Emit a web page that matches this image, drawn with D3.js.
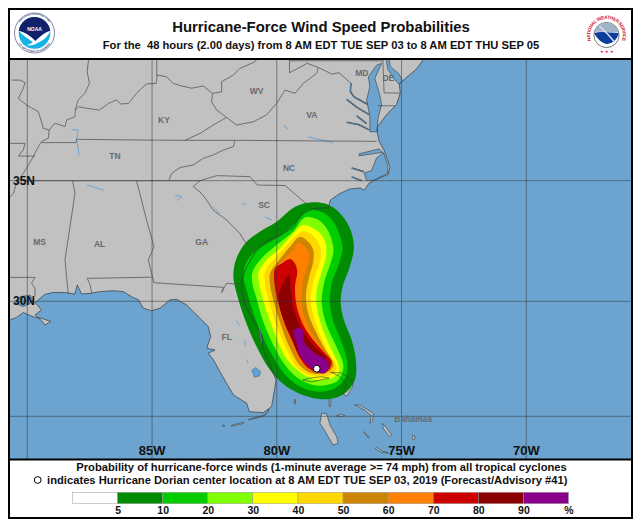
<!DOCTYPE html>
<html>
<head>
<meta charset="utf-8">
<script src="https://cdn.jsdelivr.net/npm/d3@7"></script>
<style>
  html, body { margin: 0; padding: 0; background: #fff; }
  svg { display: block; font-family: "Liberation Sans", Arial, sans-serif; }
</style>
</head>
<body>
<svg id="chart" width="640" height="527"></svg>
<script>
// tick labels and legend
const lonTicks = [-90, -85, -80, -75, -70];
const lonLabels = ["85W", "80W", "75W", "70W"];
const latTicks = [25, 30, 35];
const latLabels = ["30N", "35N"];
const legendLevels = [0, 5, 10, 20, 30, 40, 50, 60, 70, 80, 90];
const legendColors = ["#ffffff", "#008b00", "#00cd00", "#7fff00", "#ffff00", "#ffd700", "#cd8500", "#ff7f00", "#cd0000", "#8b0000", "#8b008b"];
const legendLabels = ["5", "10", "20", "30", "40", "50", "60", "70", "80", "90", "%"];

// storm position, lon/lat
const stormCenter = [-78.4, 27.07];

// probability contours, lon/lat
const contour5 = [[-78.67,34.10],[-78.00,34.03],[-77.47,33.65],[-77.07,33.02],[-76.91,32.26],[-77.07,31.44],[-77.36,30.61],[-77.44,29.91],[-77.31,29.19],[-77.00,28.32],[-76.83,27.45],[-76.87,26.58],[-77.27,26.00],[-77.87,25.75],[-78.67,25.83],[-79.60,26.29],[-80.27,27.01],[-80.81,28.03],[-81.27,29.19],[-81.61,30.33],[-81.74,31.02],[-81.64,31.71],[-81.27,32.40],[-80.67,32.89],[-80.01,33.30],[-79.27,33.92]];
const contour10 = [[-78.74,33.76],[-78.13,33.67],[-77.73,33.30],[-77.49,32.75],[-77.36,32.20],[-77.53,31.50],[-77.80,30.74],[-77.87,29.91],[-77.73,29.11],[-77.44,28.32],[-77.17,27.30],[-77.27,26.65],[-77.67,26.22],[-78.27,26.07],[-78.94,26.22],[-79.60,26.73],[-80.07,27.45],[-80.54,28.39],[-80.94,29.48],[-81.21,30.47],[-81.34,31.02],[-81.21,31.64],[-80.81,32.13],[-80.14,32.54],[-79.40,33.09]];
const contour20 = [[-78.87,33.47],[-78.33,33.37],[-78.00,33.02],[-77.80,32.54],[-77.73,32.06],[-77.87,31.50],[-78.11,30.74],[-78.20,29.91],[-78.03,29.04],[-77.67,28.17],[-77.33,27.16],[-77.53,26.58],[-78.00,26.36],[-78.54,26.36],[-79.14,26.65],[-79.67,27.23],[-80.14,28.10],[-80.54,29.11],[-80.81,30.12],[-80.98,30.74],[-80.97,31.23],[-80.61,31.78],[-80.01,32.33],[-79.34,32.89]];
const contour30 = [[-78.94,33.16],[-78.54,33.02],[-78.20,32.75],[-78.03,32.33],[-78.03,31.85],[-78.20,31.23],[-78.40,30.47],[-78.40,29.77],[-78.20,28.90],[-77.87,28.03],[-77.49,27.01],[-77.73,26.70],[-78.27,26.58],[-78.80,26.73],[-79.34,27.16],[-79.74,27.74],[-80.14,28.75],[-80.47,29.77],[-80.70,30.68],[-80.74,31.16],[-80.47,31.64],[-79.87,32.20],[-79.40,32.75]];
const contour40 = [[-79.00,32.89],[-78.67,32.82],[-78.40,32.54],[-78.23,32.13],[-78.29,31.57],[-78.50,30.95],[-78.64,30.19],[-78.54,29.41],[-78.29,28.61],[-78.00,27.88],[-77.60,27.09],[-77.87,26.80],[-78.33,26.73],[-78.87,26.87],[-79.27,27.23],[-79.60,27.88],[-79.94,28.75],[-80.27,29.84],[-80.47,30.74],[-80.47,31.23],[-80.07,31.78],[-79.54,32.40]];
const contour50 = [[-79.07,32.68],[-78.74,32.47],[-78.54,32.13],[-78.54,31.64],[-78.70,31.02],[-78.83,30.26],[-78.74,29.48],[-78.47,28.75],[-78.13,28.03],[-77.73,27.23],[-77.93,26.94],[-78.33,26.84],[-78.74,26.94],[-79.14,27.30],[-79.47,27.96],[-79.74,28.68],[-80.07,29.77],[-80.27,30.68],[-80.27,31.16],[-80.01,31.57],[-79.47,32.26]];
const contour60 = [[-79.14,32.43],[-78.87,32.26],[-78.70,31.92],[-78.78,31.44],[-78.94,30.88],[-79.00,30.19],[-78.94,29.48],[-78.60,28.61],[-78.20,27.96],[-77.80,27.30],[-78.00,27.01],[-78.33,26.90],[-78.74,27.04],[-79.07,27.38],[-79.34,28.03],[-79.60,28.68],[-79.90,29.62],[-80.07,30.54],[-80.14,31.09],[-79.94,31.50],[-79.40,32.06]];
const contour70 = [[-79.47,31.75],[-79.27,31.57],[-79.18,31.23],[-79.27,30.61],[-79.20,29.77],[-78.94,28.97],[-78.54,28.32],[-78.07,27.74],[-77.80,27.38],[-77.93,27.01],[-78.33,26.90],[-78.74,27.09],[-79.07,27.52],[-79.34,28.17],[-79.67,28.97],[-79.94,29.91],[-80.11,30.88],[-80.07,31.37],[-79.80,31.57]];
const contour80 = [[-79.51,31.09],[-79.44,30.47],[-79.31,29.62],[-79.00,28.82],[-78.54,28.10],[-78.00,27.52],[-77.89,27.23],[-78.03,26.94],[-78.40,26.97],[-78.78,27.23],[-79.14,27.74],[-79.40,28.39],[-79.74,29.26],[-79.94,30.12],[-79.80,30.61]];
const contour90 = [[-79.18,28.85],[-78.96,28.75],[-78.91,28.24],[-78.47,27.74],[-78.00,27.45],[-77.92,27.16],[-78.07,26.87],[-78.40,26.94],[-78.78,27.23],[-79.07,27.67],[-79.23,28.24],[-79.34,28.68]];
const contours = [contour5, contour10, contour20, contour30, contour40, contour50, contour60, contour70, contour80, contour90];

// coast, lon/lat
const coastGulf = [[-91.5,29.19],[-90.69,29.19],[-90.43,29.30],[-90.16,29.51],[-89.96,29.41],[-89.69,29.30],[-89.43,29.26],[-89.06,29.12],[-89.29,28.97],[-89.43,29.16],[-89.69,29.41],[-89.43,29.62],[-89.60,29.84],[-89.69,29.94],[-89.49,30.12],[-89.29,30.29],[-88.96,30.37],[-88.49,30.36],[-88.09,30.30],[-88.00,30.68],[-87.82,30.30],[-87.49,30.33],[-87.09,30.40],[-86.55,30.44],[-86.15,30.40],[-85.82,30.19],[-85.55,30.06],[-85.35,29.70],[-85.02,29.59],[-84.68,29.70],[-84.28,30.06],[-84.01,30.08],[-83.61,29.84],[-83.35,29.55],[-83.01,29.19],[-82.75,28.90],[-82.65,28.46],[-82.81,27.96],[-82.48,27.88],[-82.75,27.74],[-82.54,27.45],[-82.28,26.94],[-82.01,26.43],[-81.74,25.93],[-81.21,25.57],[-81.10,25.20],[-80.54,25.16],[-80.21,25.42],[-80.07,26.29],[-80.03,26.58]];
const coastAtlantic = [[-80.25,27.16],[-80.54,27.88],[-80.60,28.40],[-80.55,28.45],[-80.85,29.00],[-81.10,29.45],[-81.30,29.95],[-81.40,30.40],[-81.42,30.75],[-81.30,31.20],[-81.17,31.50],[-81.00,31.80],[-80.85,32.05],[-80.60,32.30],[-80.40,32.50],[-79.90,32.70],[-79.30,33.10],[-79.15,33.40],[-78.90,33.65],[-78.55,33.85],[-78.00,33.88],[-77.95,33.85],[-77.85,34.20],[-77.50,34.45],[-77.10,34.65],[-76.65,34.70],[-76.50,34.60],[-76.30,34.90],[-75.90,35.10],[-75.53,35.25],[-75.47,35.55],[-75.70,36.20],[-75.90,36.55],[-75.97,36.90],[-75.97,37.12],[-75.60,37.60],[-75.20,38.00],[-75.05,38.45],[-75.09,38.80],[-74.96,38.93],[-74.40,39.40],[-74.10,39.80],[-73.60,40.30]];
const landCorners = [[-73.60,41],[-91.5,41]];

// inland water, lon/lat
const chesapeakeBay = [[-76.27,36.93],[-76.27,37.52],[-76.40,38.18],[-76.27,38.70],[-76.33,39.09],[-76.00,39.55],[-75.80,39.62],[-76.07,39.03],[-75.89,38.44],[-75.80,37.98],[-75.93,37.52],[-75.97,37.13],[-75.98,36.92]];
const delawareBay = [[-75.62,39.80],[-75.55,39.40],[-75.30,39.00],[-75.09,38.80],[-74.96,38.93],[-75.10,39.20],[-75.45,39.50],[-75.50,39.80]];
const pamlicoSound = [[-75.55,35.30],[-76.10,35.02],[-76.40,35.00],[-76.50,35.30],[-76.20,35.40],[-76.00,35.90],[-75.72,36.10],[-75.55,35.60]];
const albemarleSound = [[-75.75,36.12],[-76.70,35.98],[-76.70,36.06],[-75.90,36.25]];
const okeechobee = [[-81.00,27.00],[-80.85,27.12],[-80.65,26.95],[-80.70,26.75],[-80.90,26.70]];
const pontchartrain = [[-90.29,30.19],[-89.89,30.26],[-89.76,29.99],[-90.16,29.77],[-90.49,29.91]];
const waterBodies = [chesapeakeBay, delawareBay, pamlicoSound, albemarleSound, pontchartrain];

const potomac = [[-76.35,38.00],[-76.90,38.30],[-77.05,38.50],[-77.03,38.85]];
const rappahannock = [[-76.30,37.60],[-76.80,37.90],[-77.20,38.20]];
const yorkRiver = [[-76.40,37.25],[-76.80,37.55]];
const jamesRiver = [[-76.30,37.00],[-76.70,37.20],[-77.20,37.30]];
const pamlicoRiver = [[-76.50,35.35],[-77.00,35.50]];
const neuseRiver = [[-76.60,35.00],[-77.00,35.15]];
const indianRiver = [[-80.70,28.80],[-80.60,28.20]];
const estuaries = [potomac, rappahannock, yorkRiver, jamesRiver, pamlicoRiver, neuseRiver, indianRiver];

const kentuckyLake = [[-88.22,37.00],[-87.96,37.00],[-88.02,36.63],[-87.92,36.00]];
const guntersville = [[-87.60,34.82],[-86.95,34.61]];
const hartwell = [[-84.08,34.40],[-83.81,34.34],[-84.01,34.17]];
const clarkHill = [[-82.55,33.92],[-82.28,33.64]];
const lakeMurray = [[-81.41,34.06],[-81.24,34.02]];
const lakeMarion = [[-80.47,33.50],[-80.20,33.37]];
const kerrLake = [[-78.75,36.73],[-77.75,36.50]];
const smithMountain = [[-79.75,37.19],[-79.55,37.03]];
const floridaPondsA = [[-81.60,29.15],[-81.50,28.95]];
const floridaPondsB = [[-81.30,28.30],[-81.25,28.05]];
const floridaPondsC = [[-81.20,27.45],[-81.15,27.30]];
const lakes = [kentuckyLake, guntersville, hartwell, clarkHill, lakeMurray, lakeMarion, kerrLake, smithMountain, floridaPondsA, floridaPondsB, floridaPondsC];

// state lines, lon/lat
const moIlRiver = [[-90.63,38.96],[-90.29,38.96],[-90.09,38.86],[-90.16,38.64],[-90.36,38.24],[-90.03,37.98],[-89.56,37.72],[-89.43,37.32],[-89.36,37.06],[-89.12,37.00]];
const ohioLower = [[-89.12,37.00],[-88.89,37.26],[-88.49,37.13],[-88.42,37.39],[-88.09,37.52],[-88.08,37.78]];
const ohioUpper = [[-88.08,37.78],[-87.94,37.91],[-87.60,37.85],[-87.11,37.78],[-86.75,38.04],[-86.42,38.18],[-86.26,38.02],[-85.95,38.04],[-85.62,38.44],[-85.42,38.64],[-85.22,38.81],[-84.84,38.83],[-84.79,39.16],[-84.42,39.09],[-84.15,38.83],[-83.81,38.73],[-83.41,38.64],[-82.95,38.73],[-82.58,38.44]];
const inIlLine = [[-87.53,39.90],[-87.60,39.29],[-87.51,38.83],[-87.69,38.44],[-87.96,38.18],[-88.08,37.78]];
const inOhLine = [[-84.81,39.90],[-84.81,39.12]];
const wvOhRiver = [[-82.58,38.44],[-82.21,38.50],[-82.21,38.90],[-81.74,39.16],[-81.48,39.42],[-80.88,39.68],[-80.70,39.90]];
const kyWvLine = [[-82.58,38.44],[-82.61,38.11],[-82.41,37.78],[-82.01,37.49]];
const kyVaLine = [[-82.01,37.49],[-82.55,37.19],[-83.08,36.86],[-83.68,36.59]];
const vaWvLine = [[-82.01,37.49],[-81.61,37.19],[-80.94,37.32],[-80.41,37.59],[-80.01,38.04],[-79.67,38.57],[-79.27,38.44],[-78.94,38.83],[-78.40,39.23],[-78.34,39.46],[-77.80,39.20]];
const mdWvLine = [[-79.49,39.90],[-79.49,39.25],[-78.78,39.62],[-78.34,39.46]];
const mdPaLine = [[-79.49,39.72],[-75.75,39.72]];
const potomacUpper = [[-77.80,39.20],[-77.50,39.25],[-77.05,38.85]];
const deMdLine = [[-75.75,39.80],[-75.70,38.46],[-75.05,38.45]];
const mdVaShore = [[-75.95,37.95],[-75.25,37.95]];
const tnKyLine = [[-89.43,36.50],[-88.05,36.50],[-88.02,36.63],[-85.40,36.60],[-83.68,36.59],[-81.68,36.59]];
const vaNcLine = [[-81.68,36.59],[-76.00,36.55]];
const tnNcLine = [[-81.68,36.59],[-81.74,36.34],[-82.14,36.21],[-82.55,36.01],[-82.95,35.88],[-83.35,35.62],[-83.88,35.52],[-84.21,35.29],[-84.32,35.03]];
const line35N = [[-90.20,35.00],[-83.08,35.00]];
const moBootheel = [[-90.70,36.47],[-90.09,36.47],[-90.16,36.21],[-90.36,35.97],[-89.69,35.97]];
const mississippiRiver = [[-89.12,37.00],[-89.16,36.67],[-89.43,36.54],[-89.63,36.21],[-89.76,35.94],[-89.96,35.62],[-90.16,35.29],[-90.43,34.89],[-90.56,34.47],[-90.69,34.33]];
const ncScLine = [[-83.35,34.75],[-83.08,35.00],[-82.41,35.20],[-81.08,35.16],[-80.78,34.82],[-79.67,34.80],[-78.60,33.85]];
const savannahRiver = [[-83.35,34.75],[-83.08,34.54],[-82.81,34.20],[-82.55,33.78],[-82.01,33.37],[-81.48,32.81],[-81.28,32.47],[-80.85,32.06]];
const msAlLine = [[-88.18,35.00],[-88.09,34.47],[-88.49,31.71],[-88.36,30.33]];
const alGaLine = [[-85.62,35.00],[-85.22,33.37],[-84.92,32.26],[-85.15,31.71],[-85.02,31.16],[-84.92,30.77]];
const alFlLine = [[-87.42,30.36],[-87.49,30.70],[-87.60,30.95],[-85.02,31.00]];
const gaFlLine = [[-84.92,30.77],[-82.14,30.58],[-82.21,30.36],[-82.01,30.75],[-81.68,30.72],[-81.42,30.72]];
const msLaLine = [[-90.70,30.99],[-89.69,30.99],[-89.83,30.75],[-89.69,30.54],[-89.69,30.20]];
const stateLines = [moIlRiver, ohioLower, ohioUpper, inIlLine, inOhLine, wvOhRiver, kyWvLine, kyVaLine, vaWvLine, mdWvLine, mdPaLine, potomacUpper, deMdLine, mdVaShore, tnKyLine, vaNcLine, tnNcLine, line35N, moBootheel, mississippiRiver, ncScLine, savannahRiver, msAlLine, alGaLine, alFlLine, gaFlLine, msLaLine];

// islands, lon/lat
const grandBahama = [[-78.96,26.58],[-78.60,26.50],[-77.90,26.66],[-78.20,26.72],[-78.70,26.66]];
const abaco = [[-77.85,26.92],[-77.40,26.88],[-77.00,26.60],[-76.95,26.30],[-77.20,25.87],[-77.35,26.00],[-77.20,26.40],[-77.50,26.75]];
const andros = [[-78.20,25.15],[-78.00,25.10],[-77.87,24.61],[-77.60,24.09],[-77.54,23.80],[-77.74,23.72],[-77.94,24.09],[-78.14,24.47],[-78.27,24.69]];
const eleuthera = [[-76.87,25.49],[-76.67,25.49],[-76.47,25.35],[-76.13,25.13],[-76.16,24.83],[-76.27,24.69],[-76.22,25.05],[-76.50,25.28],[-76.75,25.44]];
const catIsland = [[-75.77,24.69],[-75.60,24.47],[-75.40,24.17],[-75.49,24.09],[-75.73,24.47]];
const sanSalvador = [[-74.55,24.15],[-74.45,24.10],[-74.50,23.95],[-74.58,24.00]];
const longIsland = [[-76.00,23.62],[-75.80,23.47],[-75.53,23.37],[-75.80,23.40],[-76.05,23.55]];
const exuma = [[-76.53,24.30],[-76.33,24.03],[-76.30,24.05],[-76.50,24.32]];
const newProvidence = [[-77.60,25.02],[-77.40,25.08],[-77.27,25.02],[-77.45,24.97]];
const biminiIslands = [[-79.30,25.72],[-79.25,25.72],[-79.25,25.55],[-79.30,25.55]];
const berryIslands = [[-77.90,25.72],[-77.83,25.72],[-77.85,25.42],[-77.90,25.42]];
const upperKeys = [[-81.14,24.84],[-80.54,25.00],[-80.34,25.18],[-80.32,25.30],[-80.50,25.05],[-81.10,24.87]];
const lowerKeys = [[-81.81,24.56],[-81.34,24.68],[-81.34,24.74],[-81.81,24.60]];
const marquesas = [[-82.17,24.56],[-82.10,24.56],[-82.10,24.61],[-82.17,24.61]];
const cuba = [[-82.40,23.10],[-81.50,23.13],[-80.50,23.13],[-80.30,22.80],[-82.40,22.80]];
const islands = [grandBahama, abaco, andros, eleuthera, catIsland, sanSalvador, longIsland, exuma, newProvidence, biminiIslands, berryIslands, upperKeys, lowerKeys, marquesas, cuba];

// place names and their lon/lat
const stateNames = ["WV", "KY", "TN", "VA", "NC", "SC", "MS", "AL", "GA", "FL", "DE", "MD", "Bahamas"];
const stateLons = [-80.81, -84.52, -86.49, -78.60, -79.51, -80.51, -89.51, -87.10, -83.01, -82.01, -75.53, -76.59, -74.53];
const stateLats = [38.52, 37.39, 35.98, 37.59, 35.49, 33.98, 32.46, 32.36, 32.46, 28.46, 39.03, 39.24, 24.88];

const svg = d3.select("#chart");

// the map grid is not quite Mercator, so latitude is piecewise
const xLon = d3.scaleLinear().domain([-90, -70]).range([27.3, 526.3]);
const yLat = d3.scaleLinear().domain([23, 25, 30, 35, 40]).range([461.3, 416.3, 301.3, 180.7, 53.7]);

const line = d3.line().x(d => xLon(d[0])).y(d => yLat(d[1]));
const closed = d3.line().x(d => xLon(d[0])).y(d => yLat(d[1])).curve(d3.curveLinearClosed);
const smooth = d3.line().x(d => xLon(d[0])).y(d => yLat(d[1])).curve(d3.curveCatmullRomClosed.alpha(0.5));

const mapBox = { x: 10, y: 59, w: 622, h: 400 };

svg.append("clipPath").attr("id", "mapClip")
  .append("rect").attr("x", mapBox.x).attr("y", mapBox.y).attr("width", mapBox.w).attr("height", mapBox.h);

const map = svg.append("g").attr("clip-path", "url(#mapClip)");

const oceanColor = "#6ca4cf";
const landColor = "#c1c1c1";
const coastColor = "#2f3a40";
const lakeColor = "#5fa2d8";

map.append("rect").attr("x", mapBox.x).attr("y", mapBox.y).attr("width", mapBox.w).attr("height", mapBox.h).attr("fill", oceanColor);

// land
map.append("path")
  .attr("d", closed(coastGulf.concat(coastAtlantic, landCorners)))
  .attr("fill", landColor);

map.selectAll(".island").data(islands).enter().append("path")
  .attr("class", "island")
  .attr("d", d => closed(d))
  .attr("fill", landColor);

map.selectAll(".water").data(waterBodies).enter().append("path")
  .attr("class", "water")
  .attr("d", d => closed(d))
  .attr("fill", oceanColor);

map.append("path").attr("d", closed(okeechobee)).attr("fill", lakeColor);

map.selectAll(".lake").data(lakes).enter().append("path")
  .attr("class", "lake")
  .attr("d", d => line(d))
  .attr("fill", "none")
  .attr("stroke", lakeColor)
  .attr("stroke-width", 0.9);

// probability bands, low to high
const bandColor = d3.scaleOrdinal().domain(contours.map((d, i) => i)).range(legendColors.slice(1));
map.selectAll(".band").data(contours).enter().append("path")
  .attr("class", "band")
  .attr("d", d => smooth(d))
  .attr("fill", (d, i) => bandColor(i));

// state lines and coast stay on top of the bands
map.selectAll(".state").data(stateLines).enter().append("path")
  .attr("class", "state")
  .attr("d", d => line(d))
  .attr("fill", "none")
  .attr("stroke", "#4a4a4a")
  .attr("stroke-width", 0.7);

map.append("path")
  .attr("d", line(coastGulf.concat(coastAtlantic)))
  .attr("fill", "none")
  .attr("stroke", coastColor)
  .attr("stroke-width", 0.7);

map.selectAll(".waterEdge").data(waterBodies).enter().append("path")
  .attr("class", "waterEdge")
  .attr("d", d => closed(d))
  .attr("fill", "none")
  .attr("stroke", coastColor)
  .attr("stroke-width", 0.6);

map.selectAll(".estuaryEdge").data(estuaries).enter().append("path")
  .attr("class", "estuaryEdge")
  .attr("d", d => line(d))
  .attr("fill", "none")
  .attr("stroke", coastColor)
  .attr("stroke-width", 1.5);

map.selectAll(".estuary").data(estuaries).enter().append("path")
  .attr("class", "estuary")
  .attr("d", d => line(d))
  .attr("fill", "none")
  .attr("stroke", oceanColor)
  .attr("stroke-width", 0.7);

map.selectAll(".islandEdge").data(islands).enter().append("path")
  .attr("class", "islandEdge")
  .attr("d", d => closed(d))
  .attr("fill", "none")
  .attr("stroke", coastColor)
  .attr("stroke-width", 0.6);

map.append("path").attr("d", closed(okeechobee)).attr("fill", "none").attr("stroke", "#3d5d75").attr("stroke-width", 0.5);

// grid
map.selectAll(".lonGrid").data(lonTicks).enter().append("line")
  .attr("class", "lonGrid")
  .attr("x1", d => xLon(d)).attr("x2", d => xLon(d))
  .attr("y1", mapBox.y).attr("y2", mapBox.y + mapBox.h)
  .attr("stroke", "#3a3a3a").attr("stroke-opacity", 0.55).attr("stroke-width", 1);

map.selectAll(".latGrid").data(latTicks).enter().append("line")
  .attr("class", "latGrid")
  .attr("x1", mapBox.x).attr("x2", mapBox.x + mapBox.w)
  .attr("y1", d => yLat(d)).attr("y2", d => yLat(d))
  .attr("stroke", "#3a3a3a").attr("stroke-opacity", 0.55).attr("stroke-width", 1);

// place names
map.selectAll(".stateName").data(stateNames).enter().append("text")
  .attr("class", "stateName")
  .attr("x", (d, i) => xLon(stateLons[i]))
  .attr("y", (d, i) => yLat(stateLats[i]))
  .attr("text-anchor", "middle")
  .attr("dominant-baseline", "central")
  .attr("font-size", 8.5)
  .attr("font-weight", "bold")
  .attr("fill", "#666a6e")
  .text(d => d);

// storm center
map.append("circle")
  .attr("cx", xLon(stormCenter[0])).attr("cy", yLat(stormCenter[1])).attr("r", 3.4)
  .attr("fill", "#fff").attr("stroke", "#000").attr("stroke-width", 1);

// grid labels
svg.selectAll(".lonLabel").data(lonLabels).enter().append("text")
  .attr("class", "lonLabel")
  .attr("x", d => xLon(-parseInt(d)))
  .attr("y", 450)
  .attr("text-anchor", "middle")
  .attr("dominant-baseline", "central")
  .attr("font-size", 13)
  .attr("font-weight", "bold")
  .attr("fill", "#111")
  .text(d => d);

svg.selectAll(".latLabel").data(latLabels).enter().append("text")
  .attr("class", "latLabel")
  .attr("x", 13)
  .attr("y", d => yLat(parseInt(d)))
  .attr("dominant-baseline", "central")
  .attr("font-size", 12)
  .attr("font-weight", "bold")
  .attr("fill", "#111")
  .text(d => d);

// frames
svg.append("rect").attr("x", 9).attr("y", 9).attr("width", 623).attr("height", 509)
  .attr("fill", "none").attr("stroke", "#000").attr("stroke-width", 2);
svg.append("line").attr("x1", 9).attr("x2", 632).attr("y1", 59).attr("y2", 59)
  .attr("stroke", "#000").attr("stroke-width", 2);
svg.append("line").attr("x1", 9).attr("x2", 632).attr("y1", 459.5).attr("y2", 459.5)
  .attr("stroke", "#000").attr("stroke-width", 2);

// titles
svg.append("text").attr("x", 321).attr("y", 27)
  .attr("text-anchor", "middle").attr("dominant-baseline", "central")
  .attr("font-size", 14.9).attr("font-weight", "bold").attr("fill", "#111")
  .text("Hurricane-Force Wind Speed Probabilities");

svg.append("text").attr("x", 321).attr("y", 45)
  .attr("text-anchor", "middle").attr("dominant-baseline", "central")
  .attr("font-size", 11.2).attr("font-weight", "bold").attr("fill", "#111")
  .attr("xml:space", "preserve")
  .text("For the  48 hours (2.00 days) from 8 AM EDT TUE SEP 03 to 8 AM EDT THU SEP 05");

svg.append("text").attr("x", 321.5).attr("y", 467)
  .attr("text-anchor", "middle").attr("dominant-baseline", "central")
  .attr("font-size", 11.2).attr("font-weight", "bold").attr("fill", "#111")
  .text("Probability of hurricane-force winds (1-minute average >= 74 mph) from all tropical cyclones");

svg.append("text").attr("x", 567.5).attr("y", 480)
  .attr("text-anchor", "end").attr("dominant-baseline", "central")
  .attr("font-size", 11.2).attr("font-weight", "bold").attr("fill", "#111")
  .text("indicates Hurricane Dorian center location at 8 AM EDT TUE SEP 03, 2019 (Forecast/Advisory #41)");

svg.append("circle").attr("cx", 37.7).attr("cy", 480).attr("r", 3.4)
  .attr("fill", "#fff").attr("stroke", "#000").attr("stroke-width", 1);

// legend bar
const legendX = d3.scaleBand().domain(legendLevels).range([72.5, 568.5]);
const legend = svg.append("g");
legend.selectAll("rect").data(legendLevels).enter().append("rect")
  .attr("x", d => legendX(d))
  .attr("y", 492.3)
  .attr("width", legendX.bandwidth())
  .attr("height", 11.4)
  .attr("fill", (d, i) => legendColors[i])
  .attr("stroke", "#999")
  .attr("stroke-width", 0.5);

const legendTicks = d3.scalePoint().domain(legendLabels).range([117.6, 568.5]);
const legendAxis = svg.append("g")
  .attr("transform", "translate(0,506)")
  .call(d3.axisBottom(legendTicks).tickSize(0).tickPadding(1));
legendAxis.select(".domain").remove();
legendAxis.selectAll("text")
  .attr("font-family", "Liberation Sans")
  .attr("font-size", 10.5)
  .attr("font-weight", "bold")
  .attr("fill", "#111");

// NOAA badge
const noaa = svg.append("g").attr("transform", "translate(34.5,33)");
noaa.append("circle").attr("r", 20).attr("fill", "#fff").attr("stroke", "#2a3a7a").attr("stroke-width", 0.6);
noaa.append("circle").attr("r", 15.8).attr("fill", "#15b2e8");
noaa.append("path").attr("d", "M -15.7 -2 A 15.8 15.8 0 0 1 15.7 -2 C 11 -1 6 3 1 8 C -4 3 -10 -1 -15.7 -2 Z").attr("fill", "#12206b");
noaa.append("path").attr("d", "M -15.7 -2 C -10 -1 -4 3 1 8 C 6 3 11 -1 15.7 -2 C 14 3 8 8 3 10 C 0 12 -5 13 -8 12 C -4 11 -2 10 -2 9 C -6 6 -12 2 -15.7 -2 Z").attr("fill", "#fff");
noaa.append("path").attr("id", "noaaTop").attr("d", "M -14.6 -11 A 18.3 18.3 0 0 1 14.6 -11").attr("fill", "none");
noaa.append("path").attr("id", "noaaBottom").attr("d", "M -17 8.5 A 19 19 0 0 0 17 8.5").attr("fill", "none");
noaa.append("text").attr("font-size", 1.9).attr("font-weight", "bold").attr("fill", "#1d2c6c")
  .append("textPath").attr("href", "#noaaTop").attr("startOffset", "50%").attr("text-anchor", "middle")
  .text("NATIONAL OCEANIC AND ATMOSPHERIC ADMINISTRATION");
noaa.append("text").attr("font-size", 2.2).attr("font-weight", "bold").attr("fill", "#1d2c6c")
  .append("textPath").attr("href", "#noaaBottom").attr("startOffset", "50%").attr("text-anchor", "middle")
  .text("U.S. DEPARTMENT OF COMMERCE");
noaa.append("text").attr("y", -4).attr("text-anchor", "middle").attr("dominant-baseline", "central")
  .attr("font-size", 5).attr("font-weight", "bold").attr("fill", "#fff").text("NOAA");

// NWS badge
const nws = svg.append("g").attr("transform", "translate(606.5,35)");
nws.append("circle").attr("r", 19.5).attr("fill", "#fff");
nws.append("path").attr("id", "nwsRing").attr("d", "M -11.5 12 A 16.4 16.4 0 1 1 11.5 12").attr("fill", "none");
nws.append("text").attr("font-size", 4.6).attr("font-weight", "bold").attr("fill", "#d4122a")
  .append("textPath").attr("href", "#nwsRing").attr("startOffset", "50%").attr("text-anchor", "middle")
  .attr("textLength", 62).attr("lengthAdjust", "spacing").text("NATIONAL WEATHER SERVICE");
nws.append("circle").attr("r", 12.6).attr("fill", "#fff").attr("stroke", "#222").attr("stroke-width", 0.6);
nws.append("path").attr("d", "M -12 -3 A 12.4 12.4 0 0 1 12 -3 C 6 -2 -5 -4 -12 -3 Z").attr("fill", "#9fb4c6");
nws.append("path").attr("d", "M -12.3 -2 C -5 -4 3 -2 12.2 -2 C 11.5 3 8 7 3 8.5 C -2 10.5 -9 5 -12.3 -2 Z").attr("fill", "#0c3d9c");
nws.append("path").attr("d", "M -7 -9 L 2 0 L 8 7").attr("fill", "none").attr("stroke", "#d8e4ee").attr("stroke-width", 1.4);
nws.selectAll(".star").data(["★", "★", "★"]).enter().append("text")
  .attr("class", "star")
  .attr("x", (d, i) => (i - 1) * 5)
  .attr("y", 18)
  .attr("text-anchor", "middle")
  .attr("font-size", 3.5)
  .attr("fill", "#d4122a")
  .text(d => d);
</script>
</body>
</html>
